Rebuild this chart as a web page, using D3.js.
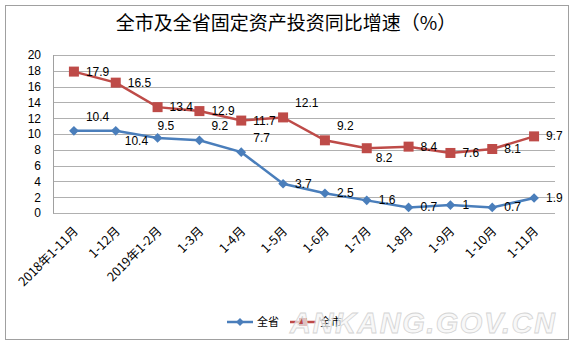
<!DOCTYPE html>
<html><head><meta charset="utf-8">
<script src="https://cdn.jsdelivr.net/npm/d3@7"></script>
<style>body{margin:0;background:#fff}svg{display:block}</style>
</head><body><svg id="c" width="576" height="350"></svg>
<script>
const categories = ["2018年1-11月","1-12月","2019年1-2月","1-3月","1-4月","1-5月","1-6月","1-7月","1-8月","1-9月","1-10月","1-11月"];
const provinceValues = [10.4,10.4,9.5,9.2,7.7,3.7,2.5,1.6,0.7,1,0.7,1.9];   // 全省
const cityValues = [17.9,16.5,13.4,12.9,11.7,12.1,9.2,8.2,8.4,7.6,8.1,9.7];  // 全市
const yTicks = [0,2,4,6,8,10,12,14,16,18,20];
const seriesNames = ["全省","全市"];
const titleText = "全市及全省固定资产投资同比增速（%）";
// label placement codes: r = right, ur = up-right, dr = down-right, u = up
const provinceLabelPos = ["ur","dr","u","ur","ur","r","r","r","r","r","r","r"];
const cityLabelPos = ["r","r","r","r","r","ur","ur","dr","r","r","r","r"];

const svg = d3.select("#c");
const font = "'Liberation Sans', Arial, sans-serif";
const cjk = "'Noto Sans CJK SC', sans-serif";
const m = {l:53, r:555, t:55, b:213};

svg.append("rect").attr("x",5.5).attr("y",5.5).attr("width",563).attr("height",334)
  .attr("fill","#fff").attr("stroke","#a0a0a0").attr("stroke-width",1);

svg.append("text").attr("x",286).attr("y",30).attr("text-anchor","middle")
  .attr("font-family",cjk).attr("font-size",19).attr("fill","#000").text(titleText);

const x = d3.scaleBand().domain(categories).range([m.l,m.r]);
const y = d3.scaleLinear().domain([0,20]).range([m.b,m.t]);
const cx = d => x(d)+x.bandwidth()/2;

// gridlines
svg.append("g").selectAll("line").data(yTicks).join("line")
  .attr("x1",m.l).attr("x2",m.r).attr("y1",d=>Math.round(y(d))+0.5).attr("y2",d=>Math.round(y(d))+0.5)
  .attr("stroke","#b0b0b0").attr("stroke-width",1);
svg.append("line").attr("x1",m.l+0.5).attr("x2",m.l+0.5).attr("y1",m.t).attr("y2",m.b+0.5)
  .attr("stroke","#a0a0a0");

// y axis labels
const ya = svg.append("g").attr("transform",`translate(${m.l},0)`)
  .call(d3.axisLeft(y).tickValues(yTicks).tickSize(0).tickPadding(12));
ya.select(".domain").remove();
ya.selectAll("text").attr("font-family",font).attr("font-size",12).attr("fill","#000");

// x labels
svg.append("g").selectAll("text").data(categories).join("text")
  .attr("transform",d=>`translate(${cx(d)+5},${m.b+19}) rotate(-45)`)
  .attr("text-anchor","end").attr("font-family",cjk).attr("font-size",12.5).attr("fill","#000")
  .text(d=>d);

const line = d3.line().x((d,i)=>cx(categories[i])).y(d=>y(d));
const blue = "#4a7ebb", red = "#be4b48";

svg.append("path").datum(cityValues).attr("d",line).attr("fill","none").attr("stroke",red).attr("stroke-width",2.5);
svg.append("path").datum(provinceValues).attr("d",line).attr("fill","none").attr("stroke",blue).attr("stroke-width",2.5);

svg.append("g").selectAll("rect").data(cityValues).join("rect")
  .attr("x",(d,i)=>cx(categories[i])-5).attr("y",d=>y(d)-5).attr("width",10).attr("height",10)
  .attr("fill",red);
svg.append("g").selectAll("path").data(provinceValues).join("path")
  .attr("transform",(d,i)=>`translate(${cx(categories[i])},${y(d)})`)
  .attr("d",d3.symbol(d3.symbolDiamond2,60)).attr("fill",blue);

const off = {r:[12,4], ur:[12,-10], dr:[9,14], u:[0,-8]};
function labels(vals,pos){
  svg.append("g").selectAll("text").data(vals).join("text")
    .attr("x",(d,i)=>cx(categories[i])+off[pos[i]][0])
    .attr("y",(d,i)=>y(d)+off[pos[i]][1])
    .attr("font-family",font).attr("font-size",12).attr("fill","#000").text(d=>d);
}
labels(cityValues,cityLabelPos);
labels(provinceValues,provinceLabelPos);

// legend
const lg = svg.append("g");
lg.append("line").attr("x1",227).attr("x2",253).attr("y1",322).attr("y2",322).attr("stroke",blue).attr("stroke-width",2.5);
lg.append("path").attr("transform","translate(240,322)").attr("d",d3.symbol(d3.symbolDiamond2,40)).attr("fill",blue);
lg.append("text").attr("x",257).attr("y",326).attr("font-family",cjk).attr("font-size",11).text(seriesNames[0]);
lg.append("line").attr("x1",290).attr("x2",316).attr("y1",322).attr("y2",322).attr("stroke",red).attr("stroke-width",2.5);
lg.append("rect").attr("x",299).attr("y",318).attr("width",8).attr("height",8).attr("fill",red);
lg.append("text").attr("x",320).attr("y",326).attr("font-family",cjk).attr("font-size",11).text(seriesNames[1]);

// watermark (faint, as in the source image)
svg.append("text").attr("x",290).attr("y",333).attr("textLength",265)
  .attr("font-family",font).attr("font-size",29).attr("font-weight","bold").attr("font-style","italic")
  .attr("fill","rgba(245,245,245,0.7)").attr("stroke","#d4d4d4").attr("stroke-width",0.8)
  .text("ANKANG.GOV.CN");
</script></body></html>
